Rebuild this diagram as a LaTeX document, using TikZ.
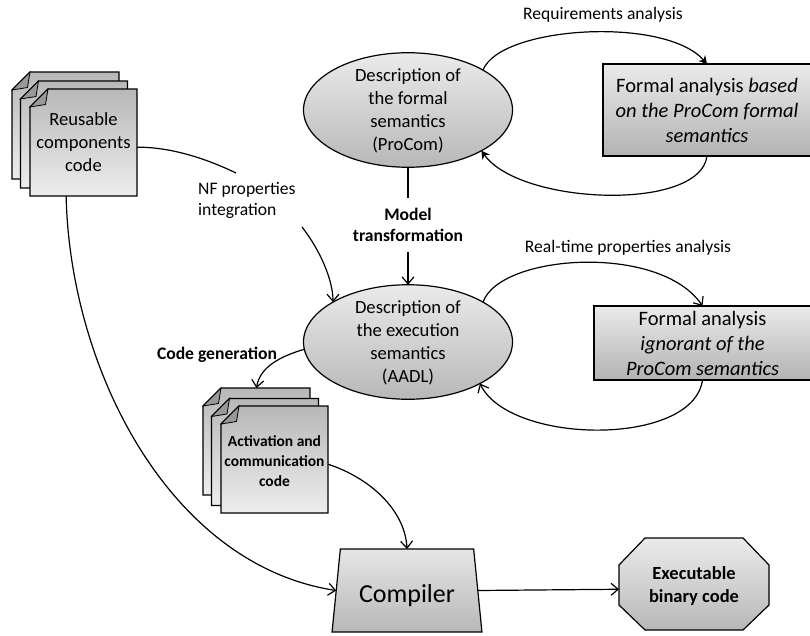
\documentclass[tikz,border=0pt]{standalone}
\usepackage{fontspec}
\setmainfont{Carlito}
\usetikzlibrary{arrows.meta,shapes.geometric}
\newcommand{\fsize}[2]{\fontsize{#1}{#2}\selectfont}
\tikzset{
    >={Straight Barb[length=7pt,width=12pt]},
    link/.style={->, line width=1.2pt},
    plainlink/.style={line width=1.2pt},
    loopup/.style={-{Stealth[length=8pt,width=9pt]}, line width=1.2pt},
    label/.style={inner sep=0pt, align=center, font=\fsize{17.6}{21}},
    boldlabel/.style={label, font=\fsize{17.6}{21}\bfseries},
    pagetext/.style={inner sep=0pt, outer sep=0pt, align=center, minimum width=107pt, minimum height=107pt},
    pagelarge/.style={pagetext, font=\fsize{18.6}{23}},
    pagesmall/.style={pagetext, font=\fsize{15.5}{20}\bfseries, text height=53pt, text depth=0pt},
    pagefill/.style={draw, line width=1.2pt, top color=black!28, bottom color=black!7},
    fold/.style={draw, line width=0.8pt, fill=black!40},
    semantics/.style={draw, ellipse, line width=1.2pt, inner sep=0pt, outer sep=0pt,
        minimum width=209pt, minimum height=109pt, align=center, text height=81pt, text depth=0pt,
        top color=black!8, bottom color=black!28, font=\fsize{18.6}{23}},
    analysis/.style={draw, rectangle, line width=1.2pt, inner sep=0pt, outer sep=0pt,
        align=center, top color=black!8, bottom color=black!30, font=\fsize{20.5}{25}},
}
\begin{document}
\begin{tikzpicture}[x=1pt, y=-1pt]
    \useasboundingbox (0,0) rectangle (810,635);

    \foreach \name/\xc/\yc/\st/\txt in {
        docAa/65.5/125.5/pagetext/{}, docAb/74/134.5/pagetext/{},
        docAc/83.5/142.5/pagelarge/{Reusable\\components\\code},
        docBa/256.5/441.5/pagetext/{}, docBb/265/452/pagetext/{},
        docBc/274.5/459.5/pagesmall/{Activation and\\communication\\code}}
    {
        \path[pagefill] (\xc-53.5,\yc-35.5) -- (\xc-35.5,\yc-53.5) -- (\xc+53.5,\yc-53.5)
            -- (\xc+53.5,\yc+53.5) -- (\xc-53.5,\yc+53.5) -- cycle;
        \draw[fold] (\xc-53.5,\yc-35.5) -- (\xc-35.5,\yc-53.5) -- (\xc-38,\yc-38) -- cycle;
        \node[\st] (\name) at (\xc,\yc) {\txt};
    }

    \node[semantics] (formal) at (408,110) {Description of\\the formal\\semantics\\(ProCom)};
    \node[semantics] (execution) at (408,342) {Description of\\the execution\\semantics\\(AADL)};

    \node[analysis, minimum width=208pt, minimum height=92pt] (based) at (707,110)
        {Formal analysis \textit{based}\\\textit{on the ProCom formal}\\\textit{semantics}};
    \node[analysis, minimum width=217pt, minimum height=74pt] (ignorant) at (702.5,343)
        {Formal analysis\\\textit{ignorant of the}\\\textit{ProCom semantics}};

    \node[draw, trapezium, trapezium stretches=true, trapezium left angle=76, trapezium right angle=76,
        line width=1.2pt, inner sep=0pt, outer sep=0pt, minimum width=150pt, minimum height=83pt,
        text height=24pt, text depth=0pt,
        top color=black!10, bottom color=black!28, font=\fsize{26}{30}] (compiler) at (407,590.5) {Compiler};

    \path[draw, line width=1.2pt, top color=black!8, bottom color=black!28]
        (645,538) -- (743,538) -- (769,565) -- (769,605) -- (743,630)
        -- (645,630) -- (619,605) -- (619,565) -- cycle;
    \node[inner sep=0pt, outer sep=0pt, minimum width=150pt, minimum height=92pt, align=center,
        text height=36pt, text depth=0pt, font=\fsize{18.5}{23}\bfseries] (binary) at (694,584) {Executable\\binary code};

    \node[label] (reqlabel) at (603,15) {Requirements analysis};
    \node[label] (rtlabel) at (628,248) {Real-time properties analysis};
    \node[label, align=left, anchor=west] (nflabel) at (198,200) {NF properties\\integration};
    \node[boldlabel] (modellabel) at (408,225) {Model\\transformation};
    \node[boldlabel] (codelabel) at (217,355) {Code generation};

    \coordinate (nfout) at (236,173);
    \coordinate (nfin) at (302,227);
    \coordinate (modelout) at (408,198);
    \coordinate (modelin) at (408,252);

    \draw[plainlink] (docAc.-5) .. controls (170,147) and (205,158) .. (nfout);
    \draw[link] (nfin) .. controls (320,250) and (333,280) .. (execution.152);
    \draw[link] (docAc.252) .. controls (70,370) and (170,565) .. (compiler.west);
    \draw[plainlink] (formal.south) -- (modelout);
    \draw[link] (modelin) -- (execution.north);
    \draw[loopup] (formal.28) .. controls (500,26) and (665,16) .. (based.north);
    \draw[loopup] (based.south) .. controls (700,212) and (520,205) .. (formal.-29);
    \draw[link] (execution.28) .. controls (500,254) and (660,243) .. (ignorant.north);
    \draw[link] (ignorant.south) .. controls (693,447) and (510,445) .. (execution.-30);
    \draw[link] (execution.184) .. controls (285,355) and (260,365) .. (docBa.north);
    \draw[link] (docBc.-5) .. controls (370,478) and (405,510) .. (compiler.north);
    \draw[link] (compiler.east) -- (binary.184);
\end{tikzpicture}
\end{document}
